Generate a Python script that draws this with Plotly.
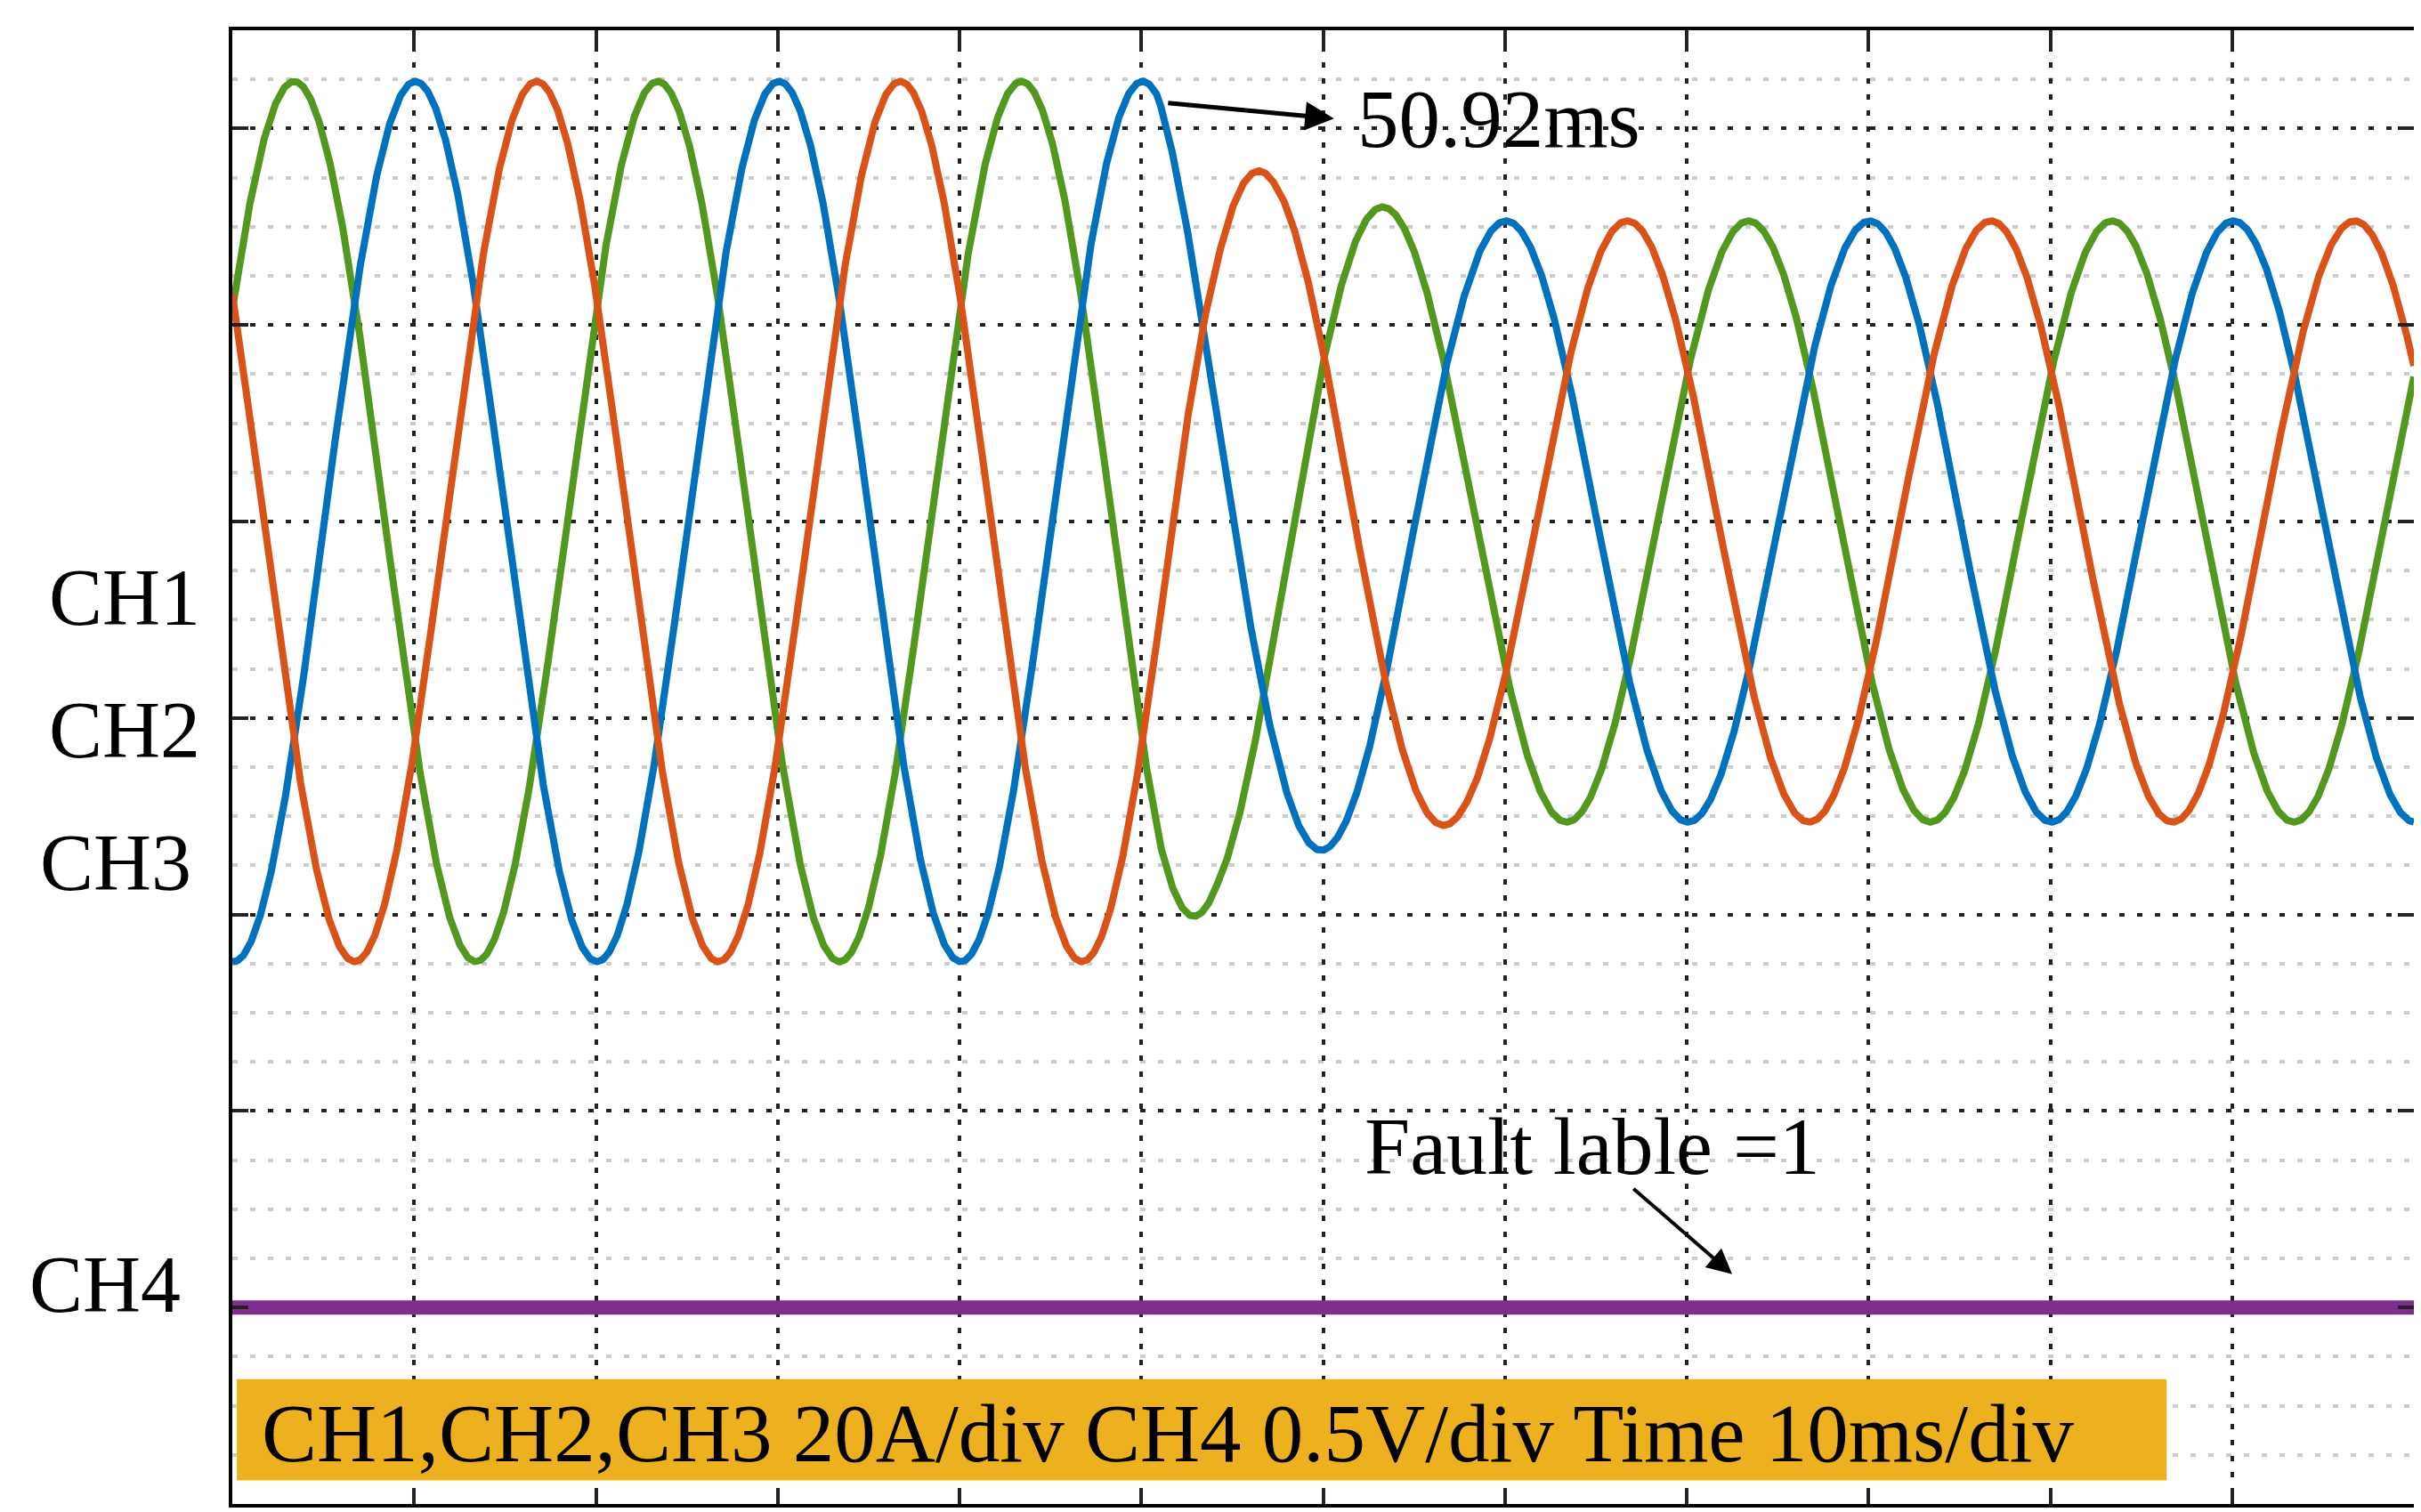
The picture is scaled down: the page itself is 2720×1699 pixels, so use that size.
import numpy as np
import plotly.graph_objects as go

# oscilloscope settings (divisions: x 10 ms/div, y 1 unit/div)
t_ms = np.linspace(0, 120, 4001)
period_ms = 20.0
center_div = 5.0
green_peak_ms = 3.4
phase_shift_ms = [0.0, 20.0 / 3, 40.0 / 3]  # green, blue, orange

# amplitude envelope (div)
env_t = [0, 50.9, 54.2, 57.3, 60.8, 64.4, 67.8, 120]
env_amp = [2.24, 2.24, 1.9, 1.75, 1.65, 1.58, 1.53, 1.53]

ch4_level = 1.0

names = ["CH3", "CH1", "CH2"]
colors = ["#52981E", "#0072BD", "#D95319"]

amp = np.interp(t_ms, env_t, env_amp)

fig = go.Figure()
for name, col, sh in zip(names, colors, phase_shift_ms):
    y = center_div + amp * np.cos(2 * np.pi * (t_ms - green_peak_ms - sh) / period_ms)
    fig.add_trace(go.Scatter(x=t_ms, y=y, mode="lines", name=name,
                             line=dict(color=col, width=8)))

fig.add_trace(go.Scatter(x=[0, 120], y=[ch4_level, ch4_level], mode="lines",
                         name="CH4", line=dict(color="#7E2F8E", width=16)))

serif = "Liberation Serif"
fig.add_shape(type="rect", x0=0.25, x1=106.4, y0=0.12, y1=0.635,
              fillcolor="#EDB120", line=dict(width=0), layer="above")
fig.add_annotation(x=1.5, y=0.36, xanchor="left", showarrow=False,
                   text="CH1,CH2,CH3 20A/div CH4 0.5V/div Time 10ms/div",
                   font=dict(family=serif, size=93, color="black"))

fig.add_annotation(x=60.6, y=7.05, ax=51.4, ay=7.13, axref="x", ayref="y",
                   showarrow=True, arrowhead=2, arrowsize=1.3, arrowwidth=5,
                   arrowcolor="black", text="")
fig.add_annotation(x=61.8, y=7.05, xanchor="left", showarrow=False, text="50.92ms",
                   font=dict(family=serif, size=93, color="black"))
fig.add_annotation(x=82.5, y=1.17, ax=77.0, ay=1.61, axref="x", ayref="y",
                   showarrow=True, arrowhead=2, arrowsize=1.4, arrowwidth=4,
                   arrowcolor="black", text="")
fig.add_annotation(x=62.2, y=1.82, xanchor="left", showarrow=False, text="Fault lable =1",
                   font=dict(family=serif, size=92, color="black"))

for lab, yy, xx in [("CH1", 0.615, -0.014), ("CH2", 0.525, -0.014),
                    ("CH3", 0.435, -0.018), ("CH4", 0.118, -0.023)]:
    fig.add_annotation(x=xx, y=yy, xref="paper", yref="paper", xanchor="right",
                       showarrow=False, text=lab,
                       font=dict(family=serif, size=90, color="black"))

fig.update_layout(
    width=2720, height=1699, plot_bgcolor="white", paper_bgcolor="white",
    showlegend=False, margin=dict(l=253, r=14, t=26, b=17),
)
fig.update_xaxes(range=[0, 120], dtick=10, showticklabels=False,
                 showline=True, linecolor="black", linewidth=4, mirror="ticks",
                 ticks="inside", ticklen=18, tickwidth=4, tickcolor="#222",
                 showgrid=True, gridcolor="#222", griddash="6px,12px", gridwidth=4,
                 zeroline=False)
fig.update_yaxes(range=[0, 7.5], dtick=1, showticklabels=False,
                 showline=True, linecolor="black", linewidth=4, mirror="ticks",
                 ticks="inside", ticklen=18, tickwidth=4, tickcolor="#222",
                 showgrid=True, gridcolor="#222", griddash="6px,14px", gridwidth=4,
                 zeroline=False,
                 minor=dict(dtick=0.25, showgrid=True, gridcolor="#CCCCCC",
                            griddash="6px,14px", gridwidth=4))

fig.write_html("out.html")
